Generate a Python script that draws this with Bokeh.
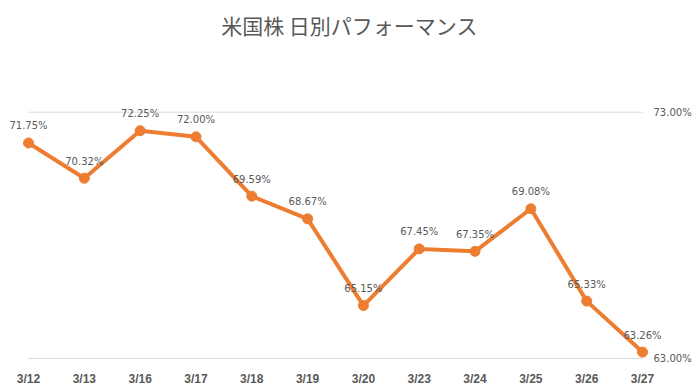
from bokeh.plotting import figure
from bokeh.models import ColumnDataSource, LabelSet, Range1d, FixedTicker
from bokeh.core.properties import value
from bokeh.embed import file_html
from bokeh.resources import INLINE

dates = ["3/12", "3/13", "3/16", "3/17", "3/18", "3/19", "3/20", "3/23", "3/24", "3/25", "3/26", "3/27"]
perf = [71.75, 70.32, 72.25, 72.00, 69.59, 68.67, 65.15, 67.45, 67.35, 69.08, 65.33, 63.26]
y_ticks = [63.0, 73.0]

GRAY = "#595959"
ORANGE = "#ED7D31"
GRID = "#d9d9d9"

# layout (canvas pixels)
W, H = 698, 392
TOP, BOTTOM = 44, 29
PLOT_L, PLOT_R = 28, 642         # where first / last category sit
GRID_TOP, GRID_BOT = 111.7, 358  # where max / min tick sit

n = len(dates)
idx = list(range(n))
ppx = (PLOT_R - PLOT_L) / (n - 1)
x0 = 0 - PLOT_L / ppx
x1 = (n - 1) + (W - PLOT_R) / ppx
ppy = (GRID_BOT - GRID_TOP) / (max(y_ticks) - min(y_ticks))
frame_bot = H - BOTTOM
y0 = min(y_ticks) - (frame_bot - GRID_BOT) / ppy
y1 = max(y_ticks) + (GRID_TOP - TOP) / ppy

src = ColumnDataSource(dict(x=idx, y=perf, lab=[f"{v:.2f}%" for v in perf]))
gsrc = ColumnDataSource(dict(x0=[0] * len(y_ticks), x1=[n - 1] * len(y_ticks), y=y_ticks,
                             lab=[f"{t:.2f}%" for t in y_ticks]))

p = figure(width=W, height=H, output_backend="svg", toolbar_location=None,
           x_range=Range1d(x0, x1), y_range=Range1d(y0, y1),
           y_axis_location=None, min_border_left=0, min_border_right=0,
           min_border_top=TOP, min_border_bottom=BOTTOM)
p.outline_line_color = None
p.background_fill_color = "white"
p.grid.grid_line_color = None

p.title.text = "米国株 日別パフォーマンス"
p.title.align = "center"
p.title.text_font = "Noto Sans CJK JP"
p.title.text_font_size = "21px"
p.title.text_font_style = "normal"
p.title.text_color = GRAY

# gridlines and right-side value labels
p.segment(x0="x0", y0="y", x1="x1", y1="y", source=gsrc, line_color=GRID, line_width=1)
p.text(x="x1", y="y", text="lab", source=gsrc, x_offset=11, text_align="left",
       text_baseline="middle", text_font=value("DejaVu Sans"), text_font_size="10px",
       text_color=GRAY)

p.line("x", "y", source=src, line_color=ORANGE, line_width=4)
p.scatter("x", "y", source=src, size=10, fill_color=ORANGE, line_color=ORANGE)

labels = LabelSet(x="x", y="y", text="lab", source=src, y_offset=17,
                  text_align="center", text_baseline="middle",
                  text_font=value("DejaVu Sans"), text_font_size="10px", text_color=GRAY)
p.add_layout(labels)

xa = p.xaxis[0]
xa.ticker = FixedTicker(ticks=idx)
xa.major_label_overrides = {i: d for i, d in zip(idx, dates)}
xa.major_tick_line_color = None
xa.major_tick_out = 0
xa.major_tick_in = 0
xa.minor_tick_line_color = None
xa.minor_tick_out = 0
xa.axis_line_color = None
xa.major_label_standoff = 8
xa.major_label_text_font = "Liberation Sans"
xa.major_label_text_font_style = "bold"
xa.major_label_text_font_size = "12px"
xa.major_label_text_color = GRAY

open("out.html", "w").write(file_html(p, INLINE))
